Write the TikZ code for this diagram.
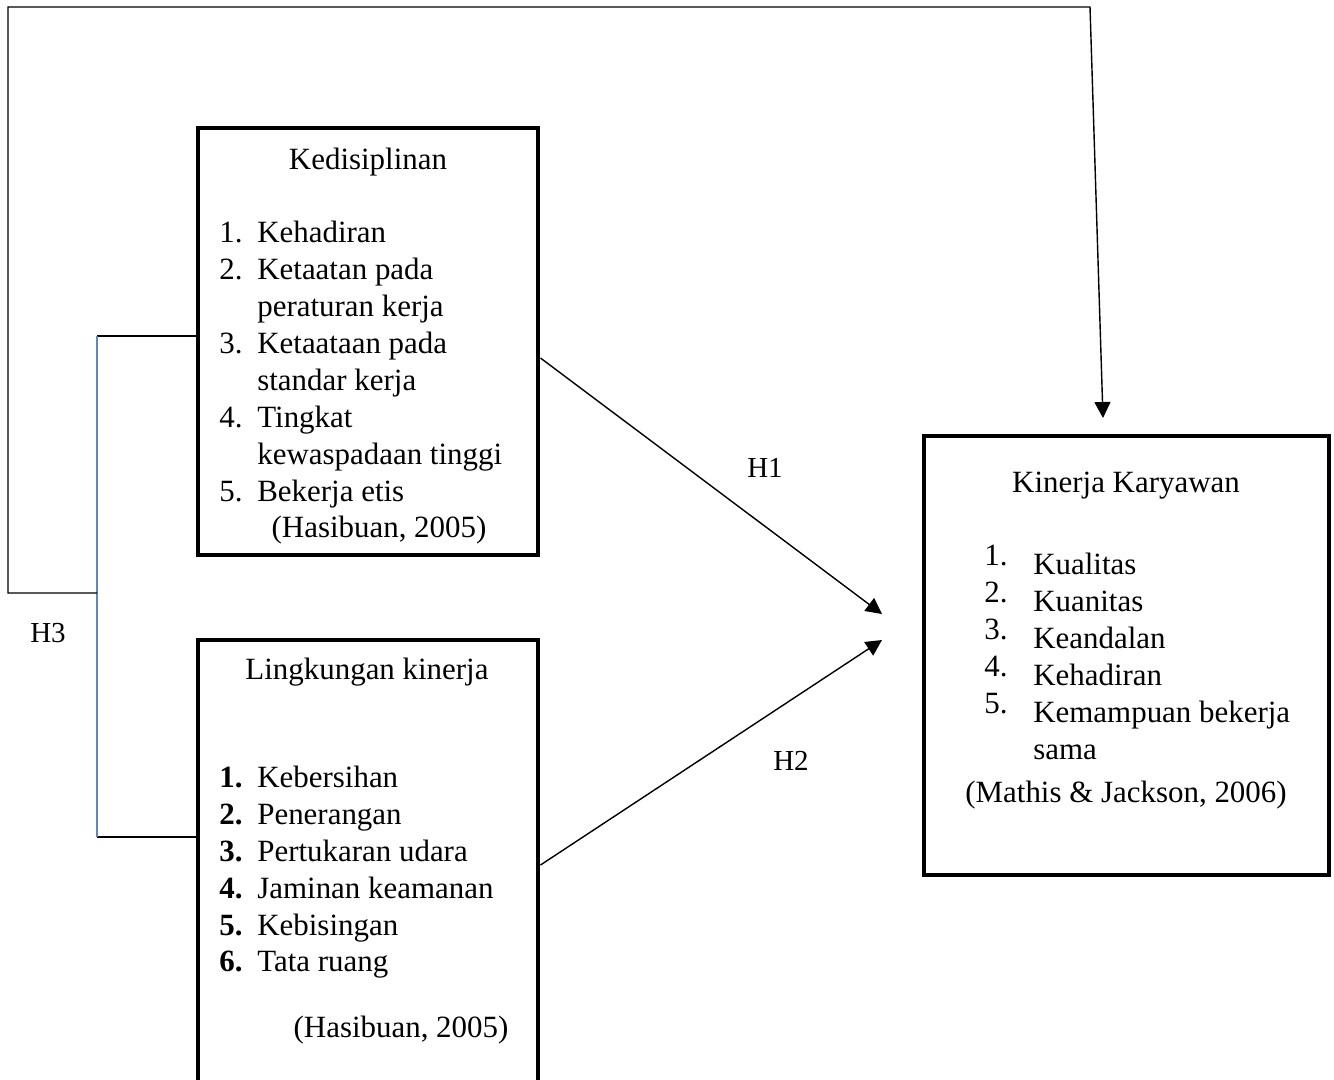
\documentclass[tikz,border=0pt]{standalone}
\usepackage{fontspec}
\setmainfont{Liberation Serif}
\usetikzlibrary{arrows.meta}
\definecolor{hblue}{RGB}{91,135,205}

\begin{document}
\begin{tikzpicture}
 [every node/.style={inner sep=0pt,font=\fontsize{17.6}{20}\selectfont},
   varbox/.style={draw,line width=2.8pt,minimum width=6.8cm},
   hyp/.style={font=\fontsize{16.5}{18}\selectfont},
   link/.style={line width=0.8pt,-{Triangle[length=0.32cm,width=0.32cm]}}]
  \useasboundingbox (0,0) rectangle (26.68,-21.58);

  % variabel
  \node[varbox,minimum height=8.54cm] (disiplin) at (7.36,-6.83) {};
  \node[varbox,minimum height=9.4cm] (lingkungan) at (7.36,-17.5) {};
  \node[varbox,minimum width=8.1cm,minimum height=8.78cm] (kinerja) at (22.53,-13.11) {};

  % Kedisiplinan
  \node[anchor=base] (disiplin-judul) at (7.36,-3.38) {Kedisiplinan};
  \foreach \no/\isi [count=\i from 0] in {1./Kehadiran,2./Ketaatan pada,/peraturan kerja,
      3./Ketaataan pada,/standar kerja,4./Tingkat,/kewaspadaan tinggi,5./Bekerja etis}
  {
    \node[anchor=base west] (disiplin-no\i) at (4.38,-4.84-0.74*\i) {\no};
    \node[anchor=base west] (disiplin-isi\i) at (5.14,-4.84-0.74*\i) {\isi};
  }
  \node[anchor=base] (disiplin-sumber) at (7.58,-10.74) {(Hasibuan, 2005)};

  % Lingkungan kinerja
  \node[anchor=base] (lingkungan-judul) at (7.34,-13.58) {Lingkungan kinerja};
  \foreach \isi [count=\i] in {Kebersihan,Penerangan,Pertukaran udara,
      Jaminan keamanan,Kebisingan,Tata ruang}
  {
    \node[anchor=base west] (lingkungan-no\i) at (4.38,-15.02-0.736*\i) {\textbf{\i.}};
    \node[anchor=base west] (lingkungan-isi\i) at (5.14,-15.02-0.736*\i) {\isi};
  }
  \node[anchor=base] (lingkungan-sumber) at (8.02,-20.74) {(Hasibuan, 2005)};

  % Kinerja Karyawan
  \node[anchor=base] (kinerja-judul) at (22.52,-9.84) {Kinerja Karyawan};
  \foreach \isi [count=\i] in {Kualitas,Kuanitas,Keandalan,Kehadiran,Kemampuan bekerja}
  {
    \node[anchor=base west] (kinerja-no\i) at (19.68,-10.58-0.736*\i) {\i.};
    \node[anchor=base west] (kinerja-isi\i) at (20.66,-10.76-0.736*\i) {\isi};
  }
  \node[anchor=base west] (kinerja-isi6) at (20.66,-15.18) {sama};
  \node[anchor=base] (kinerja-sumber) at (22.52,-16.04) {(Mathis \& Jackson, 2006)};

  % hipotesis
  \coordinate (h1-ujung) at (17.64,-12.28);
  \coordinate (h2-ujung) at (17.64,-12.8);
  \draw[link] ([yshift=-0.33cm]disiplin.east) -- (h1-ujung);
  \draw[link] ([yshift=0.2cm]lingkungan.east) -- (h2-ujung);
  \node[hyp] (h1) at (15.3,-9.36) {H1};
  \node[hyp] (h2) at (15.82,-15.22) {H2};

  \coordinate (h3-atas) at (1.94,-6.72);
  \coordinate (h3-bawah) at (1.94,-16.74);
  \coordinate (h3-tengah) at (1.94,-11.86);
  \coordinate (h3-kiri) at (0.16,-11.86);
  \coordinate (h3-sudut) at (0.16,-0.14);
  \coordinate (h3-kanan) at (21.8,-0.14);
  \coordinate (h3-ujung) at (22.06,-8.36);
  \draw[line width=0.8pt] (disiplin.west |- h3-atas) -- (h3-atas);
  \draw[line width=0.8pt] (lingkungan.west |- h3-bawah) -- (h3-bawah);
  \draw[hblue,line width=0.8pt] (h3-atas) -- (h3-bawah);
  \draw[link] (h3-tengah) -- (h3-kiri) -- (h3-sudut) -- (h3-kanan) -- (h3-ujung);
  \node[hyp] (h3) at (0.96,-12.66) {H3};
\end{tikzpicture}
\end{document}
